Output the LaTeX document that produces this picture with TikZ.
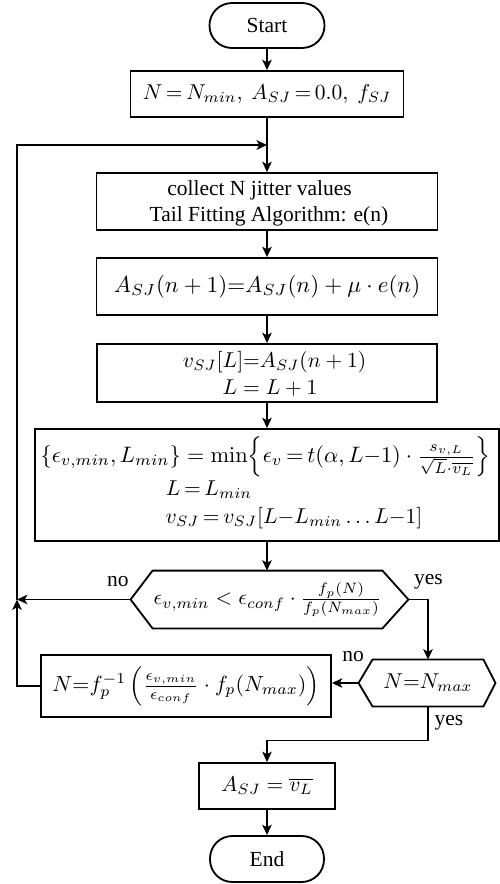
\documentclass[tikz,border=0pt]{standalone}
\usepackage[no-math]{fontspec}
\setmainfont{Liberation Serif}
\usetikzlibrary{arrows.meta,calc}
\begin{document}
\begin{tikzpicture}[x=0.4651pt,y=-0.4651pt,
  line/.style={line width=0.85pt},
  arr/.style={line, -{Stealth[length=4.8pt,width=4.4pt,inset=1.2pt]}},
  box/.style={draw, line width=0.85pt, rectangle, inner sep=0pt},
  term/.style={box, rounded corners=10.4pt},
  txt/.style={inner sep=0pt},
  lbl/.style={inner sep=0pt}
]
\useasboundingbox (0,0) rectangle (500,884);

\node[term, minimum width=53.5pt, minimum height=20.9pt] (start) at (267,25.5) {Start};
\node[box, minimum width=127pt, minimum height=21.4pt] (init) at (267,94) {$N\,{=}\,N_{min},\ A_{SJ}\,{=}\,0.0,\ f_{SJ}$};

\node[box, minimum width=158.6pt, minimum height=26.5pt] (collect) at (267,201.5) {};
\node[txt] (collect1) at (259.5,190) {collect N jitter values};
\node[txt] (collect2) at (269,216) {Tail Fitting Algorithm: e(n)};

\node[box, minimum width=158.6pt, minimum height=26.5pt] (update) at (267,286.5) {\scalebox{1.07}{$A_{SJ}(n+1){=}A_{SJ}(n)+\mu\cdot e(n)$}};

\node[box, minimum width=158.1pt, minimum height=27pt] (store) at (267,373) {};
\node[txt] (store1) at (274.5,362) {$v_{SJ}[L]{=}A_{SJ}(n+1)$};
\node[txt] (store2) at (270,388) {$L=L+1$};

\node[box, minimum width=215.8pt, minimum height=52.1pt] (minb) at (267,485) {};
\node[txt] (minb1) at (265.5,457) {\scalebox{1.04}{$\{\epsilon_{v,min}, L_{min}\} = \min\!\left\{\epsilon_v\,{=}\,t(\alpha, L{-}1)\cdot\frac{s_{v,L}}{\sqrt{L}\cdot\overline{v_L}}\right\}$}};
\node[txt] (minb2) at (209,490) {$L\,{=}\,L_{min}$};
\node[txt] (minb3) at (294,518) {$v_{SJ}\,{=}\,v_{SJ}[L{-}L_{min}\ldots L{-}1]$};

\node[txt, minimum width=106.5pt, minimum height=26.5pt] (d1) at (267.5,599.5) {$\epsilon_{v,min} < \epsilon_{conf}\cdot\frac{f_p(N)}{f_p(N_{max})}$};
\draw[line] (d1.north west) -- (d1.north east) -- ($(d1.east)+(26,0)$) coordinate (d1r) -- (d1.south east) -- (d1.south west) -- ($(d1.west)+(-22,0)$) coordinate (d1l) -- cycle;

\node[txt, minimum width=51.2pt, minimum height=21.4pt] (d2) at (428,683) {$N{=}N_{max}$};
\draw[line] (d2.north west) -- (d2.north east) -- ($(d2.east)+(12,0)$) coordinate (d2r) -- (d2.south east) -- (d2.south west) -- ($(d2.west)+(-14,0)$) coordinate (d2l) -- cycle;

\node[box, minimum width=134.9pt, minimum height=28.8pt] (upd) at (186,686) {\scalebox{1.02}{$N{=}f_p^{-1}\left(\frac{\epsilon_{v,min}}{\epsilon_{conf}}\cdot f_p(N_{max})\right)$}};

\node[box, minimum width=63.3pt, minimum height=21.4pt] (res) at (267,786) {$A_{SJ}=\overline{v_L}$};
\node[term, minimum width=53pt, minimum height=21.4pt] (end) at (267,859) {End};

\coordinate (loopB) at (17,599.5);
\coordinate (loopT) at (17,145);
\coordinate (join) at (267,145);

\draw[arr] (start) -- (init);
\draw[arr] (init) -- (collect);
\draw[arr] (collect) -- (update);
\draw[arr] (update) -- (store);
\draw[arr] (store) -- (minb);
\draw[arr] (minb.south) -- (minb.south |- d1.north);
\draw[arr] (d1l) -- (loopB);
\draw[arr] (d1r) -| (d2.north);
\draw[arr] (d2l) -- (d2l -| upd.east);
\draw[arr] (upd.west) -| (loopB);
\draw[arr] (loopB) -- (loopT) -- (join);
\draw[arr] (d2.south) -- ++(0,34) -| (res.north);
\draw[arr] (res) -- (end);

\node[lbl] (no1) at (118,582) {no};
\node[lbl] (yes1) at (428.5,582) {yes};
\node[lbl] (no2) at (353,657) {no};
\node[lbl] (yes2) at (449,723) {yes};
\end{tikzpicture}
\end{document}
